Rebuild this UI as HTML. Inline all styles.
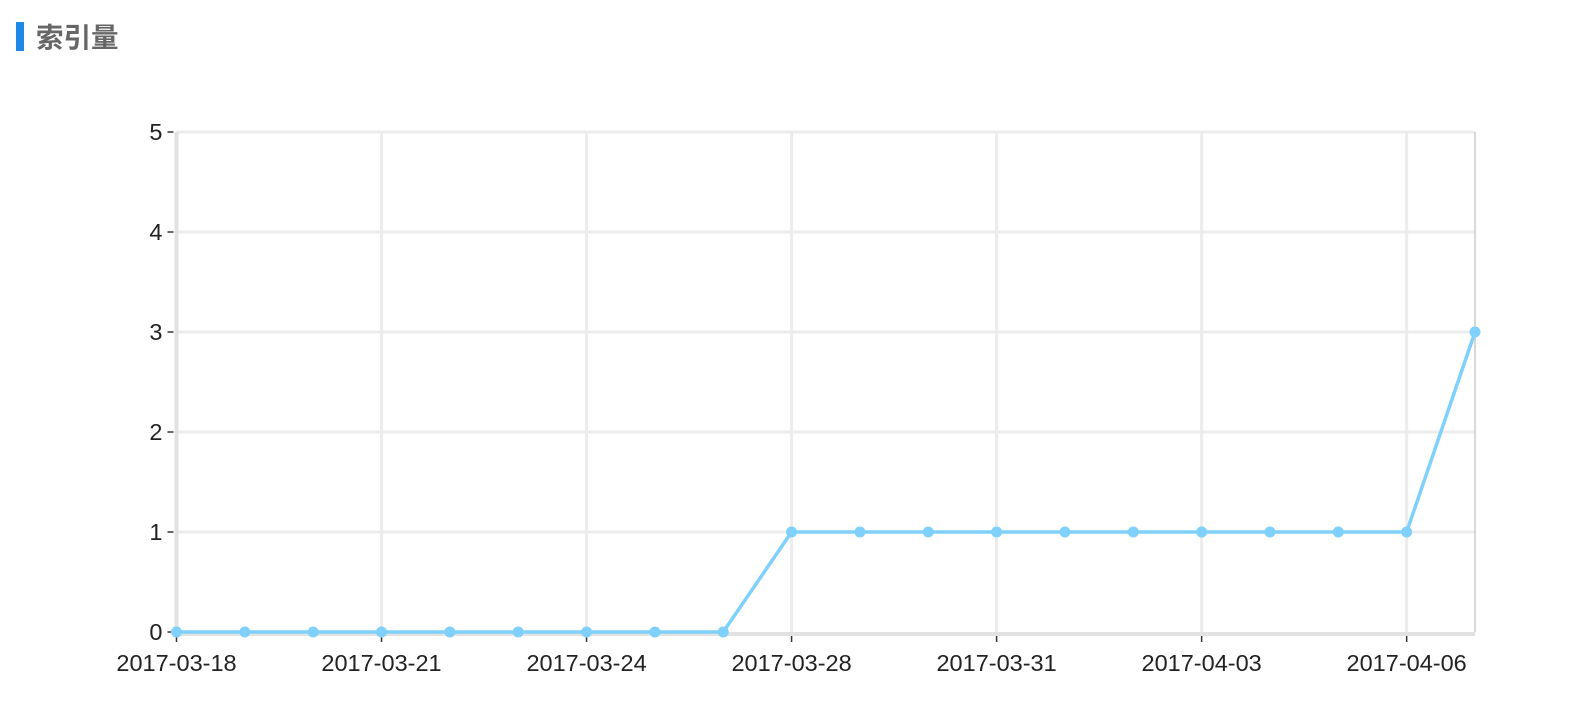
<!DOCTYPE html>
<html><head><meta charset="utf-8"><style>
html,body{margin:0;padding:0;background:#fff;width:1570px;height:726px;overflow:hidden}
</style></head><body>
<svg width="1570" height="726" xmlns="http://www.w3.org/2000/svg">
<rect x="16" y="22" width="8" height="29" fill="#1e88e5"/>
<text x="36" y="47" font-family="'Liberation Sans','Noto Sans CJK SC',sans-serif" font-size="27.5" font-weight="bold" fill="#666">索引量</text>
<g id="grid"></g>
<g id="axes"></g>
<g id="series"></g>
</svg>
<script>
const categories=["2017-03-18","2017-03-19","2017-03-20","2017-03-21","2017-03-22","2017-03-23","2017-03-24","2017-03-25","2017-03-27","2017-03-28","2017-03-29","2017-03-30","2017-03-31","2017-04-01","2017-04-02","2017-04-03","2017-04-04","2017-04-05","2017-04-06","2017-04-07"];
const values=[0,0,0,0,0,0,0,0,0,1,1,1,1,1,1,1,1,1,1,3];
const yTicks=[0,1,2,3,4,5];
const NS="http://www.w3.org/2000/svg";
const X0=176.5,X1=1475,Y0=632,Y1=132,YMAX=5;
function xs(i){return X0+(X1-X0)*i/(categories.length-1);}
function ys(v){return Y0-(Y0-Y1)*v/YMAX;}
function mk(tag,attrs,parent){const e=document.createElementNS(NS,tag);for(const k in attrs)e.setAttribute(k,attrs[k]);document.getElementById(parent).appendChild(e);return e;}
const font="'Liberation Sans',sans-serif";
yTicks.forEach(v=>{
  if(v>0){const g=mk('line',{x1:X0,x2:X1,y1:ys(v),y2:ys(v),stroke:'#ececec','stroke-width':3},'grid');
  
  }
  const t=mk('line',{x1:X0-9,x2:X0-3,y1:ys(v),y2:ys(v),stroke:'#333','stroke-width':1.5},'axes');
  
  
  const l=mk('text',{x:X0-14,y:ys(v)+8,'text-anchor':'end','font-family':font,'font-size':23.5,fill:'#222'},'axes');
  l.textContent=v;
  
  
});
categories.forEach((c,i)=>{
  if(i%3!==0)return;
  const x=xs(i);
  if(i>0){const g=mk('line',{x1:x,x2:x,y1:Y1,y2:Y0,stroke:'#ececec','stroke-width':3},'grid');
  
  }
  const t=mk('line',{x1:x,x2:x,y1:Y0+3,y2:Y0+10,stroke:'#333','stroke-width':1.5},'axes');
  
  
  const l=mk('text',{x:x,y:671,'text-anchor':'middle','font-family':font,'font-size':23.5,fill:'#222'},'axes');
  l.textContent=c;
  
  
});
const rb=mk('line',{x1:X1,x2:X1,y1:Y1,y2:Y0,stroke:'#ccc','stroke-width':1.5},'grid');


const ya=mk('line',{x1:X0,x2:X0,y1:Y1,y2:Y0+3,stroke:'#e2e2e2','stroke-width':4},'axes');


const xa=mk('line',{x1:X0-2,x2:X1,y1:Y0+2,y2:Y0+2,stroke:'#e2e2e2','stroke-width':4},'axes');


const pts=values.map((v,i)=>xs(i)+','+ys(v)).join(' ');
const pl=mk('polyline',{points:pts,fill:'none',stroke:'#7fd1fb','stroke-width':3.5,'stroke-linejoin':'round'},'series');


values.forEach((v,i)=>{
  const c=mk('circle',{cx:xs(i),cy:ys(v),r:5.5,fill:'#7fd1fb'},'series');
  
  
});
</script>
</body></html>
